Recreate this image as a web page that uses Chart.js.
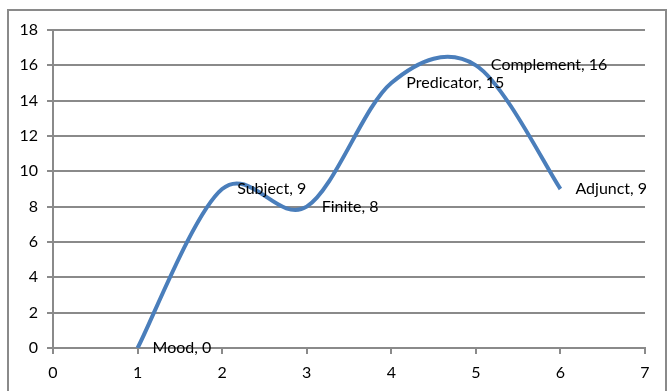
<!DOCTYPE html>
<html>
<head>
<meta charset="utf-8">
<script src="https://cdn.jsdelivr.net/npm/chart.js@4.4.1/dist/chart.umd.min.js"></script>
<style>
  html, body { margin: 0; padding: 0; background: #fff; overflow: hidden; }
  #wrap { position: relative; width: 670px; height: 391px; }
  #chart { position: absolute; left: 0; top: 0; }
  #frame { position: absolute; left: 7px; top: 9px; width: 656px; height: 400px;
           border: 2px solid #8a8a8a; pointer-events: none; }
</style>
</head>
<body>
<div id="wrap">
  <canvas id="chart" width="670" height="391"></canvas>
  <div id="frame"></div>
</div>
<script>
// Clause elements, their order along the clause, and how many items each holds
const categories = ['Mood', 'Subject', 'Finite', 'Predicator', 'Complement', 'Adjunct'];
const positions = [1, 2, 3, 4, 5, 6];
const values = [0, 9, 8, 15, 16, 9];

// Axis ranges and tick steps
const xRange = [0, 7];
const xStep = 1;
const yRange = [0, 18];
const yStep = 2;

const FONT = 'Lato, "Open Sans", sans-serif';
const GRID = '#8a8a8a';
const LINE = '#4a7ebb';

// Smooth the line with a Catmull-Rom spline through every point
const smoothCurve = {
  id: 'smoothCurve',
  beforeDatasetDraw(chart, args) {
    const line = args.meta.dataset;
    if (!line) return;
    line.updateControlPoints(chart.chartArea, 'x');
    const pts = line.points;
    for (let i = 0; i < pts.length; i++) {
      const p = pts[i];
      const prev = pts[Math.max(i - 1, 0)];
      const next = pts[Math.min(i + 1, pts.length - 1)];
      const dx = (next.x - prev.x) / 6;
      const dy = (next.y - prev.y) / 6;
      p.cp1x = p.x - dx; p.cp1y = p.y - dy;
      p.cp2x = p.x + dx; p.cp2y = p.y + dy;
    }
    delete line._path;
  }
};

// "Name, value" labels to the right of each point
const pointLabels = {
  id: 'pointLabels',
  afterDatasetsDraw(chart) {
    const { ctx, scales } = chart;
    ctx.save();
    ctx.font = '16px ' + FONT;
    ctx.fillStyle = '#000';
    ctx.textAlign = 'left';
    ctx.textBaseline = 'middle';
    categories.forEach((name, i) => {
      const x = scales.x.getPixelForValue(positions[i]) + 15;
      const y = scales.y.getPixelForValue(values[i]);
      ctx.fillText(name + ', ' + values[i], x, y);
    });
    ctx.restore();
  }
};

new Chart(document.getElementById('chart'), {
  type: 'scatter',
  data: {
    datasets: [{
      data: positions.map((x, i) => ({ x, y: values[i] })),
      showLine: true,
      tension: 0.4,
      borderColor: LINE,
      borderWidth: 4,
      pointRadius: 0,
      pointHoverRadius: 0,
      fill: false
    }]
  },
  options: {
    responsive: false,
    devicePixelRatio: 1,
    animation: false,
    events: [],
    layout: { padding: { left: 0, top: 30, right: 25, bottom: 0 } },
    plugins: { legend: { display: false }, tooltip: { enabled: false } },
    scales: {
      x: {
        type: 'linear',
        min: xRange[0], max: xRange[1],
        ticks: { stepSize: xStep, color: '#000', font: { family: FONT, size: 16 }, padding: 9 },
        grid: { drawOnChartArea: false, drawTicks: true, tickLength: 6, color: GRID, lineWidth: 2 },
        border: { display: true, color: GRID, width: 2 },
        afterFit(scale) { scale.height = 43; }
      },
      y: {
        type: 'linear',
        min: yRange[0], max: yRange[1],
        ticks: { stepSize: yStep, color: '#000', font: { family: FONT, size: 16 }, padding: 9 },
        grid: { drawTicks: true, tickLength: 6, color: GRID, lineWidth: 2 },
        border: { display: true, color: GRID, width: 2 },
        afterFit(scale) { scale.width = 53; }
      }
    }
  },
  plugins: [smoothCurve, pointLabels]
});
</script>
</body>
</html>
